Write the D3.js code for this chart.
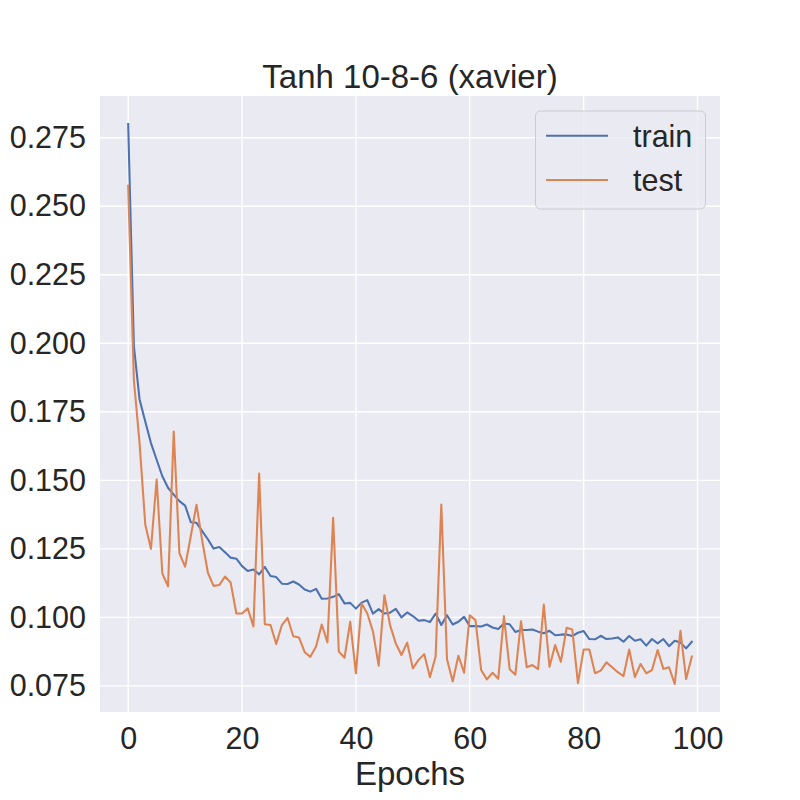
<!DOCTYPE html>
<html>
<head>
<meta charset="utf-8">
<script src="https://cdn.jsdelivr.net/npm/d3@7"></script>
<style>
  html, body { margin: 0; padding: 0; background: #fff; }
  text { font-family: "Liberation Sans", Arial, sans-serif; fill: #262626; }
</style>
</head>
<body>
<div id="chart"></div>
<script>
// Loss values, one per epoch (0..99)
const trainLoss = [
  0.2800, 0.1990, 0.1795, 0.1715, 0.1636, 0.1575, 0.1515, 0.1473, 0.1448, 0.1424,
  0.1408, 0.1347, 0.1345, 0.1315, 0.1285, 0.1251, 0.1257, 0.1238, 0.1218, 0.1214,
  0.1187, 0.1169, 0.1175, 0.1157, 0.1184, 0.1151, 0.1147, 0.1123, 0.1122, 0.1131,
  0.1120, 0.1102, 0.1094, 0.1104, 0.1068, 0.1069, 0.1075, 0.1085, 0.1051, 0.1053,
  0.1032, 0.1054, 0.1063, 0.1014, 0.1030, 0.1014, 0.1017, 0.1031, 0.1000, 0.1018,
  0.1005, 0.0988, 0.0990, 0.0983, 0.1014, 0.0972, 0.1008, 0.0974, 0.0984, 0.1002,
  0.0968, 0.0968, 0.0967, 0.0974, 0.0963, 0.0958, 0.0978, 0.0975, 0.0947, 0.0954,
  0.0954, 0.0956, 0.0948, 0.0942, 0.0951, 0.0935, 0.0937, 0.0938, 0.0932, 0.0944,
  0.0950, 0.0921, 0.0920, 0.0933, 0.0921, 0.0923, 0.0927, 0.0911, 0.0932, 0.0915,
  0.0920, 0.0897, 0.0921, 0.0905, 0.0921, 0.0895, 0.0915, 0.0908, 0.0887, 0.0911
];

const testLoss = [
  0.2575, 0.1866, 0.1636, 0.1339, 0.1250, 0.1503, 0.1160, 0.1113, 0.1678, 0.1234,
  0.1185, 0.1297, 0.1411, 0.1280, 0.1163, 0.1115, 0.1118, 0.1149, 0.1127, 0.1014,
  0.1014, 0.1033, 0.0967, 0.1525, 0.0975, 0.0972, 0.0903, 0.0972, 0.0998, 0.0931,
  0.0927, 0.0873, 0.0856, 0.0894, 0.0974, 0.0909, 0.1363, 0.0875, 0.0853, 0.0984,
  0.0796, 0.1051, 0.1014, 0.0948, 0.0824, 0.1081, 0.0972, 0.0905, 0.0863, 0.0908,
  0.0814, 0.0845, 0.0866, 0.0782, 0.0857, 0.1412, 0.0847, 0.0766, 0.0860, 0.0798,
  0.1008, 0.0990, 0.0808, 0.0774, 0.0798, 0.0776, 0.1005, 0.0811, 0.0791, 0.0986,
  0.0818, 0.0826, 0.0811, 0.1047, 0.0820, 0.0899, 0.0838, 0.0962, 0.0956, 0.0760,
  0.0883, 0.0883, 0.0796, 0.0806, 0.0836, 0.0818, 0.0800, 0.0786, 0.0883, 0.0782,
  0.0830, 0.0796, 0.0808, 0.0881, 0.0812, 0.0818, 0.0757, 0.0951, 0.0775, 0.0857
];

const seriesNames = ["train", "test"];
const seriesColors = ["#4C72B0", "#DD8452"];
const xTicks = [0, 20, 40, 60, 80, 100];
const yTicks = [0.075, 0.100, 0.125, 0.150, 0.175, 0.200, 0.225, 0.250, 0.275];
const titleText = "Tanh 10-8-6 (xavier)";
const xLabelText = "Epochs";

// figure layout (matplotlib 8x8in @ 100dpi, default subplot params)
const width = 800, height = 800;
const margin = { top: 96, right: 80, bottom: 88, left: 100 };
const plotW = width - margin.left - margin.right;
const plotH = height - margin.top - margin.bottom;

const svg = d3.select("#chart")
    .append("svg")
    .attr("width", width)
    .attr("height", height);

const g = svg.append("g").attr("transform", `translate(${margin.left},${margin.top})`);

// scales with matplotlib-like 5% margins
const n = trainLoss.length;
const xPad = (n - 1) * 0.05;
const x = d3.scaleLinear().domain([-xPad, n - 1 + xPad]).range([0, plotW]);

const allVals = trainLoss.concat(testLoss);
const yMin = d3.min(allVals), yMax = d3.max(allVals);
const yPad = (yMax - yMin) * 0.05;
const y = d3.scaleLinear().domain([yMin - yPad, yMax + yPad]).range([plotH, 0]);

// background
g.append("rect")
    .attr("width", plotW)
    .attr("height", plotH)
    .attr("fill", "#EAEAF2");

// grid
g.append("g").selectAll("line").data(xTicks).join("line")
    .attr("x1", d => x(d)).attr("x2", d => x(d))
    .attr("y1", 0).attr("y2", plotH)
    .attr("stroke", "#fff").attr("stroke-width", 1.4);

g.append("g").selectAll("line").data(yTicks).join("line")
    .attr("x1", 0).attr("x2", plotW)
    .attr("y1", d => y(d)).attr("y2", d => y(d))
    .attr("stroke", "#fff").attr("stroke-width", 1.4);

// axes (labels only, no domain/ticks like seaborn darkgrid)
const xAxis = g.append("g")
    .attr("transform", `translate(0,${plotH})`)
    .call(d3.axisBottom(x).tickValues(xTicks).tickSize(0).tickPadding(15));
const yAxis = g.append("g")
    .call(d3.axisLeft(y).tickValues(yTicks).tickSize(0).tickPadding(14).tickFormat(d3.format(".3f")));

[xAxis, yAxis].forEach(a => {
  a.select(".domain").remove();
  a.selectAll("text")
    .attr("font-family", "Liberation Sans, Arial, sans-serif")
    .attr("font-size", 30.5)
    .attr("fill", "#262626");
});
xAxis.selectAll("text").attr("dy", "0.72em");

// lines
const line = d3.line()
    .x((d, i) => x(i))
    .y(d => y(d));

[trainLoss, testLoss].forEach((series, k) => {
  g.append("path")
      .datum(series)
      .attr("fill", "none")
      .attr("stroke", seriesColors[k])
      .attr("stroke-width", 2.08)
      .attr("stroke-linejoin", "round")
      .attr("stroke-linecap", "square")
      .attr("d", line);
});

// title and x label
svg.append("text")
    .attr("x", margin.left + plotW / 2)
    .attr("y", 87.5)
    .attr("text-anchor", "middle")
    .attr("font-size", 33)
    .text(titleText);

svg.append("text")
    .attr("x", margin.left + plotW / 2)
    .attr("y", 785)
    .attr("text-anchor", "middle")
    .attr("font-size", 33)
    .text(xLabelText);

// legend
const legend = svg.append("g");
legend.append("rect")
    .attr("x", 535.5).attr("y", 111)
    .attr("width", 170).attr("height", 98)
    .attr("rx", 5).attr("ry", 5)
    .attr("fill", "#EAEAF2").attr("fill-opacity", 0.8)
    .attr("stroke", "#CCCCCC").attr("stroke-width", 1);

seriesNames.forEach((name, k) => {
  const cy = 135.7 + k * 44.3;
  legend.append("line")
      .attr("x1", 546).attr("x2", 608)
      .attr("y1", cy).attr("y2", cy)
      .attr("stroke", seriesColors[k])
      .attr("stroke-width", 2.08);
  legend.append("text")
      .attr("x", 633)
      .attr("y", cy + 10.8)
      .attr("font-size", 30.5)
      .text(name);
});
</script>
</body>
</html>
